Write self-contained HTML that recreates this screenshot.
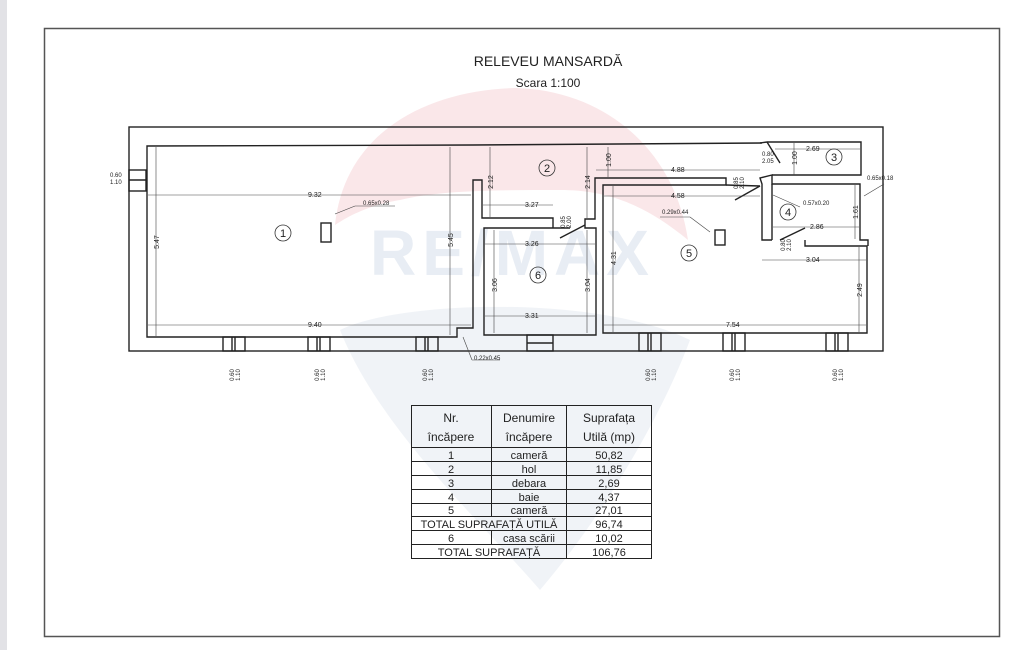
<!DOCTYPE html>
<html><head><meta charset="utf-8"><style>
html,body{margin:0;padding:0;background:#fff}
svg{display:block}
text{font-family:"Liberation Sans",sans-serif;fill:#222}
</style></head><body>
<svg width="1024" height="650" viewBox="0 0 1024 650" xmlns="http://www.w3.org/2000/svg">
<rect x="0" y="0" width="1024" height="650" fill="#fff"/>
<rect x="0" y="0" width="7" height="650" fill="#e2e2e6"/>
<!-- watermark -->
<path d="M335,225 C345,130 430,90 515,88 C605,90 675,150 688,240 C640,200 600,190 560,190 C500,190 440,190 400,200 C370,205 350,215 335,225 Z" fill="#f8dfe1" opacity="0.75"/>
<path d="M340,330 C400,300 600,295 690,340 C660,420 600,520 540,590 C480,520 380,430 340,330 Z" fill="#e6ebf2" opacity="0.6"/>
<text x="370" y="275" font-size="64" font-weight="bold" style="fill:#e8edf4" letter-spacing="6">RE/MAX</text>
<!-- frame -->
<rect x="44.5" y="28.5" width="955" height="608" fill="none" stroke="#555" stroke-width="1.5"/>
<text x="548" y="66" font-size="14" text-anchor="middle">RELEVEU  MANSARDĂ</text>
<text x="548" y="87" font-size="12" text-anchor="middle">Scara 1:100</text>
<g fill="none" stroke="#222" stroke-width="1.4">
<rect x="129" y="127" width="754" height="224"/>
<polyline points="473,145 147,146 147,337 457,337 457,328 473,328 473,180 482,180 482,218 553,218 553,228"/>
<line x1="473" y1="145" x2="762" y2="143"/>
<polyline points="553,228 484,228 484,335 596,335 596,228 585,228 585,219 595,219 595,178 726,178 726,185 603,185 603,333 867,333 867,246 805,246 805,240"/>
<polyline points="772,240 762,240 762,184 760,178 772,175 772,184 860,184 860,240 868,240 868,246"/>
<polyline points="772,240 772,184"/>
<polyline points="767,142 861,142 861,175 772,175"/>
<line x1="760" y1="143" x2="767" y2="142"/>
<line x1="767" y1="142" x2="780" y2="163"/>
<line x1="726" y1="185" x2="760" y2="186"/>
<line x1="553" y1="228" x2="570" y2="228"/>
<line x1="560" y1="238" x2="585" y2="225"/>
<line x1="735" y1="200" x2="760" y2="186"/>
<line x1="780" y1="240" x2="805" y2="228"/>
<rect x="321" y="223" width="10" height="19"/>
<rect x="715" y="230" width="10" height="15"/>
<rect x="129" y="170" width="17" height="21"/><line x1="129" y1="180" x2="146" y2="180"/>
<rect x="223" y="337" width="22" height="14"/><line x1="232" y1="337" x2="232" y2="351"/><line x1="235" y1="337" x2="235" y2="351"/>
<rect x="308" y="337" width="22" height="14"/><line x1="317" y1="337" x2="317" y2="351"/><line x1="320" y1="337" x2="320" y2="351"/>
<rect x="416" y="337" width="22" height="14"/><line x1="425" y1="337" x2="425" y2="351"/><line x1="428" y1="337" x2="428" y2="351"/>
<rect x="527" y="335" width="26" height="16"/><line x1="527" y1="343" x2="553" y2="343"/>
<rect x="639" y="333" width="22" height="18"/><line x1="648" y1="333" x2="648" y2="351"/><line x1="651" y1="333" x2="651" y2="351"/>
<rect x="723" y="333" width="22" height="18"/><line x1="732" y1="333" x2="732" y2="351"/><line x1="735" y1="333" x2="735" y2="351"/>
<rect x="826" y="333" width="22" height="18"/><line x1="835" y1="333" x2="835" y2="351"/><line x1="838" y1="333" x2="838" y2="351"/>
</g>
<g stroke="#444" stroke-width="0.6" fill="none">
<line x1="148" y1="195" x2="471" y2="195"/><line x1="148" y1="325" x2="471" y2="325"/>
<line x1="156" y1="147" x2="156" y2="336"/><line x1="450" y1="147" x2="450" y2="335"/>
<line x1="490" y1="147" x2="490" y2="217"/><line x1="483" y1="205" x2="553" y2="205"/>
<line x1="485" y1="244" x2="595" y2="244"/><line x1="485" y1="316" x2="595" y2="316"/>
<line x1="494" y1="230" x2="494" y2="333"/><line x1="587" y1="230" x2="587" y2="333"/>
<line x1="587" y1="147" x2="587" y2="218"/><line x1="608" y1="147" x2="608" y2="177"/>
<line x1="596" y1="170" x2="760" y2="170"/><line x1="604" y1="196" x2="760" y2="196"/>
<line x1="613" y1="186" x2="613" y2="332"/><line x1="604" y1="325" x2="866" y2="325"/>
<line x1="859" y1="247" x2="859" y2="332"/><line x1="762" y1="260" x2="866" y2="260"/>
<line x1="773" y1="227" x2="859" y2="227"/><line x1="855" y1="185" x2="855" y2="239"/>
<line x1="775" y1="149" x2="860" y2="149"/><line x1="794" y1="143" x2="794" y2="175"/>
<line x1="335" y1="214" x2="355" y2="206"/><line x1="355" y1="206" x2="395" y2="206"/>
<line x1="710" y1="232" x2="690" y2="217"/><line x1="660" y1="217" x2="690" y2="217"/>
<line x1="773" y1="195" x2="800" y2="207"/><line x1="864" y1="196" x2="884" y2="184"/>
<line x1="463" y1="337" x2="472" y2="360"/><line x1="472" y1="360" x2="500" y2="360"/>
</g>
<g font-size="7">
<text x="308" y="197">9.32</text><text x="308" y="327">9.40</text>
<text x="525" y="207">3.27</text><text x="525" y="246">3.26</text><text x="525" y="318">3.31</text>
<text x="671" y="172">4.88</text><text x="671" y="198">4.58</text><text x="726" y="327">7.54</text>
<text x="806" y="262">3.04</text><text x="810" y="229">2.86</text><text x="806" y="151">2.69</text>
<text x="363" y="205" font-size="6">0.65x0.28</text><text x="662" y="214" font-size="6">0.29x0.44</text>
<text x="803" y="205" font-size="6">0.57x0.20</text><text x="867" y="180" font-size="6">0.65x0.18</text>
<text x="474" y="360" font-size="6">0.22x0.45</text>
<text x="762" y="156" font-size="6">0.80</text><text x="762" y="163" font-size="6">2.05</text>
<text x="110" y="177" font-size="6">0.60</text><text x="110" y="184" font-size="6">1.10</text>
</g>
<g font-size="7" text-anchor="middle">
<text transform="translate(159,242) rotate(-90)">5.47</text>
<text transform="translate(453,240) rotate(-90)">5.45</text>
<text transform="translate(493,182) rotate(-90)">2.12</text>
<text transform="translate(590,182) rotate(-90)">2.14</text>
<text transform="translate(611,160) rotate(-90)">1.00</text>
<text transform="translate(797,158) rotate(-90)">1.00</text>
<text transform="translate(497,285) rotate(-90)">3.06</text>
<text transform="translate(590,285) rotate(-90)">3.04</text>
<text transform="translate(616,258) rotate(-90)">4.31</text>
<text transform="translate(862,290) rotate(-90)">2.49</text>
<text transform="translate(858,212) rotate(-90)">1.61</text>
</g>
<g font-size="6" text-anchor="middle">
<text transform="translate(565,222) rotate(-90)">0.85</text><text transform="translate(571,222) rotate(-90)">2.00</text>
<text transform="translate(738,183) rotate(-90)">0.85</text><text transform="translate(744,183) rotate(-90)">2.10</text>
<text transform="translate(785,245) rotate(-90)">0.80</text><text transform="translate(791,245) rotate(-90)">2.10</text>
<text transform="translate(234,375) rotate(-90)">0.60</text><text transform="translate(240,375) rotate(-90)">1.10</text>
<text transform="translate(319,375) rotate(-90)">0.60</text><text transform="translate(325,375) rotate(-90)">1.10</text>
<text transform="translate(427,375) rotate(-90)">0.60</text><text transform="translate(433,375) rotate(-90)">1.10</text>
<text transform="translate(650,375) rotate(-90)">0.60</text><text transform="translate(656,375) rotate(-90)">1.10</text>
<text transform="translate(734,375) rotate(-90)">0.60</text><text transform="translate(740,375) rotate(-90)">1.10</text>
<text transform="translate(837,375) rotate(-90)">0.60</text><text transform="translate(843,375) rotate(-90)">1.10</text>
</g>
<g fill="none" stroke="#333" stroke-width="0.8">
<circle cx="283" cy="233" r="8"/><circle cx="547" cy="168" r="8"/><circle cx="834" cy="157" r="8"/>
<circle cx="788" cy="212" r="8"/><circle cx="689" cy="253" r="8"/><circle cx="538" cy="275" r="8"/>
</g>
<g font-size="11" text-anchor="middle">
<text x="283" y="237">1</text><text x="547" y="172">2</text><text x="834" y="161">3</text>
<text x="788" y="216">4</text><text x="689" y="257">5</text><text x="538" y="279">6</text>
</g>
<g stroke="#222" stroke-width="1" fill="none">
<rect x="411.5" y="405.5" width="240" height="153"/>
<line x1="411" y1="447.5" x2="651" y2="447.5"/>
<line x1="411" y1="461.5" x2="651" y2="461.5"/><line x1="411" y1="475.5" x2="651" y2="475.5"/>
<line x1="411" y1="489.5" x2="651" y2="489.5"/><line x1="411" y1="503.5" x2="651" y2="503.5"/>
<line x1="411" y1="516.5" x2="651" y2="516.5"/><line x1="411" y1="530.5" x2="651" y2="530.5"/>
<line x1="411" y1="544.5" x2="651" y2="544.5"/>
<line x1="491.5" y1="405" x2="491.5" y2="516"/><line x1="491.5" y1="530" x2="491.5" y2="544"/>
<line x1="566.5" y1="405" x2="566.5" y2="558"/>
</g>
<g font-size="12" text-anchor="middle">
<text x="451" y="422">Nr.</text><text x="451" y="441">încăpere</text>
<text x="529" y="422">Denumire</text><text x="529" y="441">încăpere</text>
<text x="609" y="422">Suprafața</text><text x="609" y="441">Utilă (mp)</text>
</g>
<g font-size="11" text-anchor="middle">
<text x="451" y="459">1</text><text x="529" y="459">cameră</text><text x="609" y="459">50,82</text>
<text x="451" y="473">2</text><text x="529" y="473">hol</text><text x="609" y="473">11,85</text>
<text x="451" y="487">3</text><text x="529" y="487">debara</text><text x="609" y="487">2,69</text>
<text x="451" y="501">4</text><text x="529" y="501">baie</text><text x="609" y="501">4,37</text>
<text x="451" y="514">5</text><text x="529" y="514">cameră</text><text x="609" y="514">27,01</text>
<text x="489" y="528">TOTAL SUPRAFAȚĂ UTILĂ</text><text x="609" y="528">96,74</text>
<text x="451" y="542">6</text><text x="529" y="542">casa scării</text><text x="609" y="542">10,02</text>
<text x="489" y="556">TOTAL SUPRAFAȚĂ</text><text x="609" y="556">106,76</text>
</g>
</svg>
</body></html>
